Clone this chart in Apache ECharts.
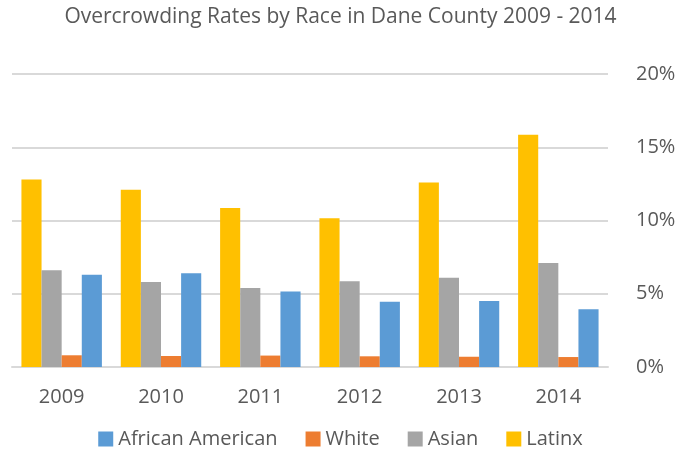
<!DOCTYPE html>
<html>
<head>
<meta charset="utf-8">
<script src="https://cdn.jsdelivr.net/npm/echarts@6/dist/echarts.min.js"></script>
<style>
    html, body { margin: 0; padding: 0; background: #fff; }
    #chart-pane { width: 681px; height: 451px; }
</style>
</head>
<body>
<div id="chart-pane"></div>
<script>
    "use strict";

    // 年份 / 各族裔拥挤率 (%)
    var years = ['2009', '2010', '2011', '2012', '2013', '2014'];
    var latinx = [12.8, 12.1, 10.85, 10.15, 12.6, 15.85];
    var asian = [6.6, 5.8, 5.4, 5.85, 6.1, 7.1];
    var white = [0.8, 0.75, 0.78, 0.73, 0.7, 0.68];
    var africanAmerican = [6.3, 6.4, 5.15, 4.45, 4.5, 3.95];
    var yTicks = [0, 5, 10, 15, 20];

    var font = '"Open Sans", sans-serif';
    var textColor = '#595959';

    var chartDom = document.getElementById('chart-pane');
    var chart = echarts.init(chartDom);
    var option = {
        animation: false,
        title: {
            text: 'Overcrowding Rates by Race in Dane County 2009 - 2014',
            left: 'center',
            top: 2,
            textStyle: { fontFamily: font, fontSize: 21, fontWeight: 'normal', color: textColor }
        },
        legend: {
            top: 424,
            left: 'center',
            itemWidth: 15,
            itemHeight: 15,
            itemGap: 28,
            icon: 'rect',
            textStyle: { fontFamily: font, fontSize: 20, color: textColor },
            data: ['African American', 'White', 'Asian', 'Latinx']
        },
        grid: { left: 12, right: 73, top: 74, bottom: 84, containLabel: false },
        xAxis: {
            type: 'category',
            data: years,
            axisLine: { lineStyle: { color: '#d9d9d9', width: 2 } },
            axisTick: { show: false },
            axisLabel: { fontFamily: font, fontSize: 20, color: textColor, margin: 20 }
        },
        yAxis: {
            type: 'value',
            position: 'right',
            min: yTicks[0],
            max: yTicks[yTicks.length - 1],
            interval: 5,
            axisLine: { show: false },
            axisTick: { show: false },
            splitLine: { lineStyle: { color: '#d9d9d9', width: 2 } },
            axisLabel: { fontFamily: font, fontSize: 20, color: textColor, margin: 28, formatter: '{value}%' }
        },
        series: [
            { name: 'Latinx', type: 'bar', data: latinx, barGap: '0%', barCategoryGap: '19%', itemStyle: { color: '#FFC000' } },
            { name: 'Asian', type: 'bar', data: asian, itemStyle: { color: '#A5A5A5' } },
            { name: 'White', type: 'bar', data: white, itemStyle: { color: '#ED7D31' } },
            { name: 'African American', type: 'bar', data: africanAmerican, itemStyle: { color: '#5B9BD5' } }
        ]
    };

    chart.setOption(option);
</script>
</body>
</html>
